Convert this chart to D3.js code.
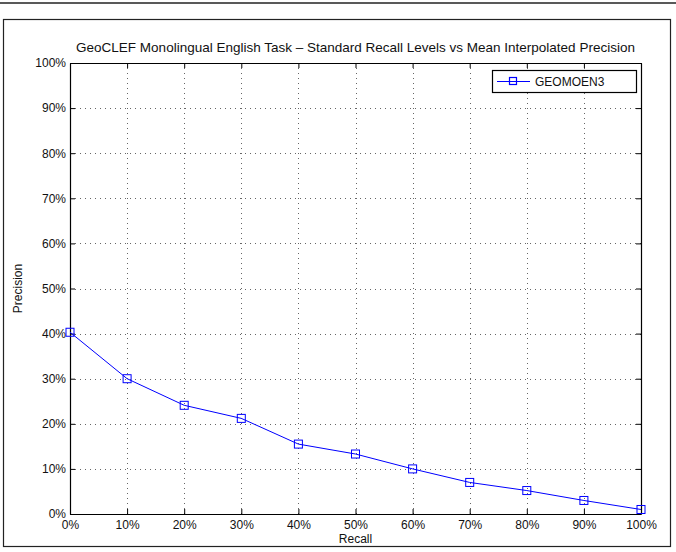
<!DOCTYPE html>
<html><head><meta charset="utf-8">
<script src="https://cdn.jsdelivr.net/npm/d3@7"></script>
<style>body{margin:0;background:#fff;} text{font-family:"Liberation Sans",Arial,sans-serif;}</style>
</head><body>
<svg id="c" width="676" height="552"></svg>
<script>
const recall = [0, 10, 20, 30, 40, 50, 60, 70, 80, 90, 100];
const precision = [40.3, 30.0, 24.1, 21.2, 15.5, 13.3, 10.0, 7.0, 5.2, 3.0, 1.0];
const xTicks = [0, 10, 20, 30, 40, 50, 60, 70, 80, 90, 100];
const yTicks = [0, 10, 20, 30, 40, 50, 60, 70, 80, 90, 100];
const seriesName = "GEOMOEN3";
const title = "GeoCLEF Monolingual English Task \u2013 Standard Recall Levels vs Mean Interpolated Precision";

const svg = d3.select("#c");
const L = 70, R = 641, T = 63, B = 514;
const x = d3.scaleLinear().domain([0, 100]).range([L, R]);
const y = d3.scaleLinear().domain([0, 100]).range([B, T]);

// outer decorations
svg.append("line").attr("x1",0).attr("x2",676).attr("y1",3).attr("y2",3).attr("stroke","#222").attr("stroke-width",1.5);
svg.append("rect").attr("x",3.5).attr("y",19.5).attr("width",667).attr("height",527).attr("fill","none").attr("stroke","#222").attr("stroke-width",1.2);

// grid
const g = svg.append("g");
g.selectAll(".gx").data(xTicks.slice(1,-1)).join("line")
  .attr("x1",d=>Math.round(x(d))+0.5).attr("x2",d=>Math.round(x(d))+0.5).attr("y1",T).attr("y2",B)
  .attr("stroke","#666").attr("stroke-width",1).attr("stroke-dasharray","1,4");
g.selectAll(".gy").data(yTicks.slice(1,-1)).join("line")
  .attr("y1",d=>Math.round(y(d))+0.5).attr("y2",d=>Math.round(y(d))+0.5).attr("x1",L).attr("x2",R)
  .attr("stroke","#666").attr("stroke-width",1).attr("stroke-dasharray","1,4");

// axes
const fmt = d => d + "%";
const ax = svg.append("g").attr("transform",`translate(0,${B})`).call(d3.axisBottom(x).tickValues(xTicks).tickFormat(fmt).tickSizeInner(-5).tickSizeOuter(0).tickPadding(6));
const axT = svg.append("g").attr("transform",`translate(0,${T})`).call(d3.axisTop(x).tickValues(xTicks).tickFormat("").tickSizeInner(-5).tickSizeOuter(0));
const ay = svg.append("g").attr("transform",`translate(${L},0)`).call(d3.axisLeft(y).tickValues(yTicks).tickFormat(fmt).tickSizeInner(-5).tickSizeOuter(0).tickPadding(4));
const ayR = svg.append("g").attr("transform",`translate(${R},0)`).call(d3.axisRight(y).tickValues(yTicks).tickFormat("").tickSizeInner(-5).tickSizeOuter(0));
[ax,axT,ay,ayR].forEach(a=>{
  a.selectAll("path").attr("stroke","#000").attr("stroke-width",1.2);
  a.selectAll("line").attr("stroke","#000");
  a.selectAll("text").attr("font-size",12).attr("fill","#111").style("font-family","Liberation Sans, Arial, sans-serif");
});

// line + markers
const line = d3.line().x((d,i)=>x(recall[i])).y(d=>y(d));
svg.append("path").datum(precision).attr("d",line).attr("fill","none").attr("stroke","#0000ff").attr("stroke-width",1);
svg.selectAll(".m").data(precision).join("rect").attr("class","m")
  .attr("x",(d,i)=>x(recall[i])-4).attr("y",d=>y(d)-4).attr("width",8).attr("height",8)
  .attr("fill","none").attr("stroke","#0000ff").attr("stroke-width",1);

// title & labels
svg.append("text").attr("x",(L+R)/2).attr("y",52).attr("text-anchor","middle").attr("font-size",13.5).attr("fill","#111").text(title);
svg.append("text").attr("x",(L+R)/2).attr("y",543).attr("text-anchor","middle").attr("font-size",12).attr("fill","#111").text("Recall");
svg.append("text").attr("transform",`translate(22,${(T+B)/2}) rotate(-90)`).attr("text-anchor","middle").attr("font-size",12).attr("fill","#111").text("Precision");

// legend
const lg = svg.append("g");
lg.append("rect").attr("x",492.5).attr("y",70.5).attr("width",144).attr("height",22).attr("fill","#fff").attr("stroke","#000").attr("stroke-width",1.2);
lg.append("line").attr("x1",497).attr("x2",530).attr("y1",81.5).attr("y2",81.5).attr("stroke","#0000ff").attr("stroke-width",1.2);
lg.append("rect").attr("x",509.5).attr("y",77.5).attr("width",7).attr("height",7).attr("fill","none").attr("stroke","#0000ff").attr("stroke-width",1.2);
lg.append("text").attr("x",535).attr("y",86).attr("font-size",12).attr("fill","#111").text(seriesName);
</script>
</body></html>
